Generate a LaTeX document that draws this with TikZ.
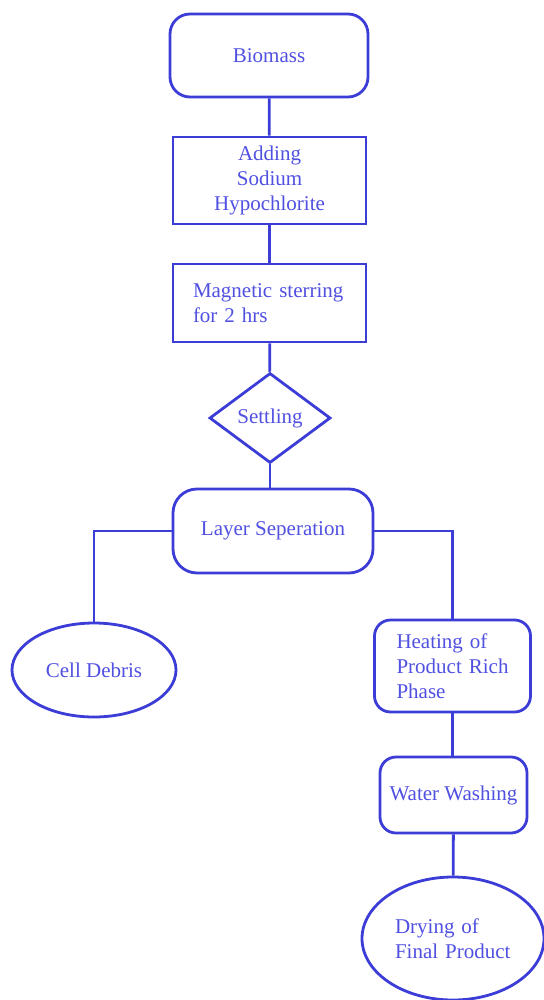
\documentclass[tikz,border=0pt]{standalone}
\usepackage{fontspec}
\setmainfont{Liberation Serif}
\usetikzlibrary{shapes.geometric}
\definecolor{flLine}{RGB}{60, 60, 215}
\definecolor{flText}{RGB}{80, 80, 225}
\tikzset{
    base/.style={
        font=\fontsize{10.5}{12.5}\selectfont,
        text=flText,
        draw=flLine,
        line width=1.4pt,
        fill=white
    },
    process/.style={
        base,
        rectangle,
        align=center
    },
    roundbox/.style={
        base,
        rectangle,
        rounded corners=8pt,
        align=center
    },
    decision/.style={
        base,
        diamond,
        inner sep=0pt,
        minimum width=60.5pt,
        minimum height=45pt
    },
    terminal/.style={
        base,
        ellipse,
        inner sep=0pt,
        align=left
    },
    flow/.style={
        draw=flLine,
        line width=1.4pt
    }
}

\begin{document}
\begin{tikzpicture}[x=0.5pt, y=-0.5pt]
    \useasboundingbox (0,0) rectangle (544,1000);

    % Main column
    \node[roundbox, rounded corners=10pt, minimum width=99pt, minimum height=41.5pt] (bio) at (269,55.5) {Biomass};
    \node[process, minimum width=96.5pt, minimum height=43.5pt] (add) at (269.5,180.5) {Adding\\Sodium\\Hypochlorite};
    \node[process, align=left, text width=76.5pt, inner xsep=10pt, minimum height=39pt] (mag) at (269.5,303) {Magnetic sterring\\for 2 hrs};
    \node[decision] (settle) at (270,418) {Settling};
    \node[roundbox, rounded corners=12pt, minimum width=100pt, minimum height=42pt] (layer) at (273,531) {Layer Seperation};

    % Branches
    \node[terminal, minimum width=82pt, minimum height=47pt] (debris) at (94,670) {Cell Debris};
    \node[roundbox, align=left, text width=56pt, inner xsep=11pt, minimum height=46pt] (heat) at (452.5,666) {Heating of\\Product Rich\\Phase};
    \node[roundbox, minimum width=73.5pt, minimum height=38pt, inner xsep=2pt] (wash) at (453.5,795) {Water Washing};
    \node[terminal, text width=58pt, minimum width=91pt, minimum height=61.5pt] (dry) at (453,938.5) {Drying of\\Final Product};

    % Connectors
    \draw[flow] (bio) -- (add);
    \draw[flow] (add) -- (mag);
    \draw[flow] (mag) -- (settle);
    \draw[flow] (settle.south) -- (settle.south |- layer.north);
    \draw[flow] (layer.west) -| (debris.north);
    \draw[flow] (layer.east) -| (heat.north);
    \draw[flow] (heat.south) -- (heat.south |- wash.north);
    \draw[flow] (wash) -- (dry);
\end{tikzpicture}
\end{document}
